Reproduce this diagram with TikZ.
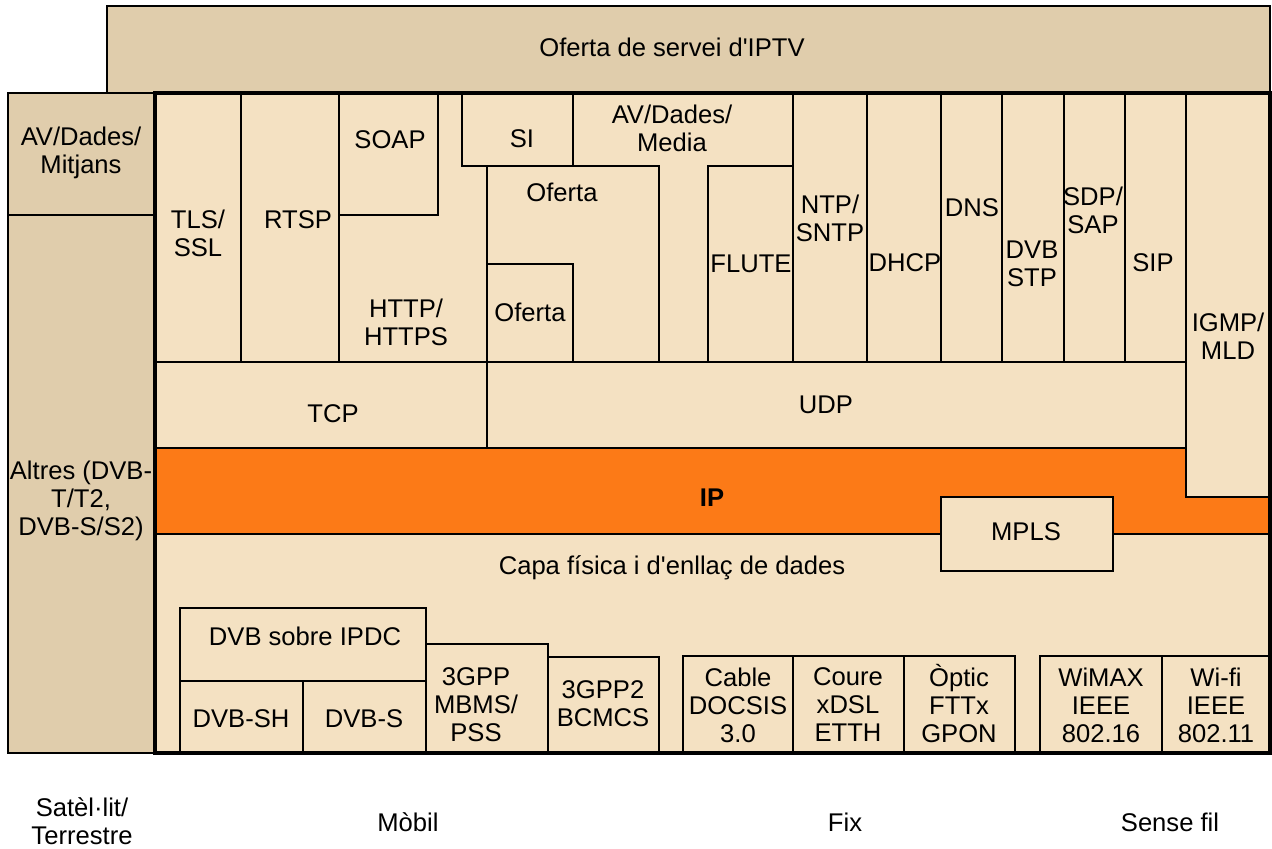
\documentclass[tikz,border=0pt]{standalone}
\usepackage{fontspec}
\setmainfont{Liberation Sans}
\definecolor{panel}{HTML}{F4E1C2}
\definecolor{tanbox}{HTML}{E0CDAC}
\definecolor{iporange}{HTML}{FC7A17}
\begin{document}
\begin{tikzpicture}[x=0.5pt,y=-0.5pt,
  ln/.style={draw=black,line width=1pt},
  frame/.style={draw=black,line width=2pt},
  lbl/.style={font=\fontsize{12.8}{14}\selectfont,align=center,inner sep=0pt},
  bold lbl/.style={lbl,font=\fontsize{12.8}{14}\selectfont\bfseries}]
\useasboundingbox (0,0) rectangle (1272,848);

% service offer band and side column
\draw[ln,fill=tanbox] (107,6) rectangle (1270,93);
\draw[ln,fill=tanbox] (8,93) rectangle (155,753);
\draw[ln] (8,215) -- (155,215);

% protocol stack panel
\fill[panel] (155,93) rectangle (1270,753);

% application layer
\draw[ln] (241,93) -- (241,362);
\draw[ln] (339,93) -- (339,362);
\draw[ln] (339,215) -- (438,215) -- (438,93);
\draw[ln] (462,93) -- (462,166) -- (573,166) -- (573,93);
\draw[ln] (487,166) rectangle (659,362);
\draw[ln] (487,264) -- (573,264) -- (573,362);
\draw[ln] (708,362) -- (708,166) -- (793,166);
\draw[ln] (793,93) -- (793,362);
\draw[ln] (867,93) -- (867,362);
\draw[ln] (941,93) -- (941,362);
\draw[ln] (1002,93) -- (1002,362);
\draw[ln] (1064,93) -- (1064,362);
\draw[ln] (1125,93) -- (1125,362);
\draw[ln] (1186,93) -- (1186,497) -- (1270,497);
\draw[ln] (155,362) -- (1186,362);

% transport layer
\draw[ln] (487,362) -- (487,448);

% network layer
\draw[ln,fill=iporange] (155,448) -- (1186,448) -- (1186,497) -- (1270,497)
  -- (1270,534) -- (1113,534) -- (1113,497) -- (941,497) -- (941,534)
  -- (155,534) -- cycle;
\draw[ln,fill=panel] (941,497) rectangle (1113,571);

% access networks
\draw[ln] (180,753) -- (180,608) -- (426,608) -- (426,753);
\draw[ln] (180,681) -- (426,681);
\draw[ln] (303,681) -- (303,753);
\draw[ln] (426,644) -- (548,644) -- (548,753);
\draw[ln] (548,657) -- (659,657) -- (659,753);
\draw[ln] (683,753) -- (683,656) -- (1015,656) -- (1015,753);
\draw[ln] (793,656) -- (793,753);
\draw[ln] (904,656) -- (904,753);
\draw[ln] (1040,753) -- (1040,656) -- (1270,656);
\draw[ln] (1162,656) -- (1162,753);

\draw[frame] (155,93) rectangle (1270,753);

% labels
\node[lbl] (oferta-iptv) at (672,47) {Oferta de servei d\textquotesingle IPTV};
\node[lbl] (av-mitjans) at (81,153) {AV/Dades/\\Mitjans};
\node[lbl] (altres) at (81,501) {Altres (DVB-\\T/T2,\\DVB-S/S2)};
\node[lbl] (tls) at (198,233) {TLS/\\SSL};
\node[lbl] (rtsp) at (298,220) {RTSP};
\node[lbl] (soap) at (390,140) {SOAP};
\node[lbl] (http) at (406,322) {HTTP/\\HTTPS};
\node[lbl] (si) at (522,139) {SI};
\node[lbl] (av-media) at (672,128) {AV/Dades/\\Media};
\node[lbl] (oferta-a) at (562,192) {Oferta};
\node[lbl] (oferta-b) at (530,312) {Oferta};
\node[lbl] (flute) at (751,264) {FLUTE};
\node[lbl] (ntp) at (830,218) {NTP/\\SNTP};
\node[lbl] (dhcp) at (905,263) {DHCP};
\node[lbl] (dns) at (972,208) {DNS};
\node[lbl] (dvbstp) at (1032,264) {DVB\\STP};
\node[lbl] (sdp) at (1093,210) {SDP/\\SAP};
\node[lbl] (sip) at (1153,263) {SIP};
\node[lbl] (igmp) at (1228,336) {IGMP/\\MLD};
\node[lbl] (tcp) at (333,414) {TCP};
\node[lbl] (udp) at (826,405) {UDP};
\node[bold lbl] (ip) at (712,498) {IP};
\node[lbl] (mpls) at (1026,532) {MPLS};
\node[lbl] (capa) at (672,568) {Capa física i d\textquotesingle enllaç de dades};
\node[lbl] (ipdc) at (305,636) {DVB sobre IPDC};
\node[lbl] (dvbsh) at (241,719) {DVB-SH};
\node[lbl] (dvbs) at (364,719) {DVB-S};
\node[lbl] (mbms) at (476,705) {3GPP\\MBMS/\\PSS};
\node[lbl] (bcmcs) at (603,704) {3GPP2\\BCMCS};
\node[lbl] (cable) at (738,705) {Cable\\DOCSIS\\3.0};
\node[lbl] (coure) at (848,705) {Coure\\xDSL\\ETTH};
\node[lbl] (optic) at (959,704) {Òptic\\FTTx\\GPON};
\node[lbl] (wimax) at (1101,705) {WiMAX\\IEEE\\802.16};
\node[lbl] (wifi) at (1216,705) {Wi-fi\\IEEE\\802.11};
\node[lbl] (satelit) at (82,821) {Satèl·lit/\\Terrestre};
\node[lbl] (mobil) at (408,822) {Mòbil};
\node[lbl] (fix) at (845,822) {Fix};
\node[lbl] (sensefil) at (1170,822) {Sense fil};
\end{tikzpicture}
\end{document}
